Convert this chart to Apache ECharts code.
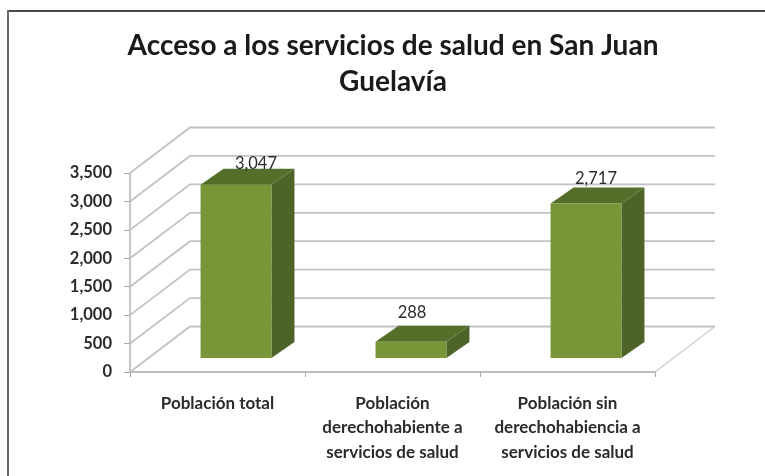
<!DOCTYPE html>
<html>
<head>
<meta charset="utf-8">
<style>html,body{margin:0;padding:0;background:#fff}#c{width:765px;height:476px}</style>
<script src="https://cdn.jsdelivr.net/npm/echarts@6/dist/echarts.min.js"></script>
</head>
<body>
<div id="c"></div>
<script>
const titleLines = ['Acceso a los servicios de salud en San Juan', 'Guelavía'];
const categories = ['Población total', 'Población\nderechohabiente a\nservicios de salud', 'Población sin\nderechohabiencia a\nservicios de salud'];
const values = [3047, 288, 2717];
const valueLabels = ['3,047', '288', '2,717'];
const yTicks = [0, 500, 1000, 1500, 2000, 2500, 3000, 3500];

const WALL = {dx: 60, dy: -45.5};
const BAR_SHIFT = {dx: 18.5, dy: -14};
const BAR_DEPTH = {dx: 23, dy: -16};
const BAR_RATIO = 0.405;
const LABEL_NUDGE = [[20, -21], [1, -29], [10, -25]];
const FONT = 'Lato, "Open Sans", sans-serif';

const chart = echarts.init(document.getElementById('c'), null, {renderer: 'canvas'});

function renderWall(params, api) {
  const cs = params.coordSys;
  const y = api.coord([0, api.value(1)])[1];
  const children = [{
    type: 'polyline',
    shape: {points: [[cs.x, y], [cs.x + WALL.dx, y + WALL.dy], [cs.x + cs.width + WALL.dx, y + WALL.dy]]},
    style: {fill: null, stroke: '#c2c2c6', lineWidth: 1.8}
  }];
  if (api.value(1) === 0) {
    children.push({
      type: 'line',
      shape: {x1: cs.x + cs.width, y1: y, x2: cs.x + cs.width + WALL.dx, y2: y + WALL.dy},
      style: {stroke: '#cfcfcf', lineWidth: 1.5}
    });
  }
  return {type: 'group', children};
}

function renderBar(params, api) {
  const idx = params.dataIndex;
  const c = api.coord([api.value(0), api.value(1)]);
  const base = api.coord([api.value(0), 0]);
  const w = api.size([1, 0])[0] * BAR_RATIO;
  const l = c[0] - w / 2 + BAR_SHIFT.dx, r = l + w;
  const t = c[1] + BAR_SHIFT.dy, b = base[1] + BAR_SHIFT.dy;
  const dx = BAR_DEPTH.dx, dy = BAR_DEPTH.dy;
  return {
    type: 'group',
    children: [
      {type: 'polygon', shape: {points: [[r, t], [r + dx, t + dy], [r + dx, b + dy], [r, b]]}, style: {fill: '#4d6327'}},
      {type: 'polygon', shape: {points: [[l, t], [l + dx, t + dy], [r + dx, t + dy], [r, t]]}, style: {fill: '#556f2b'}},
      {type: 'rect', shape: {x: l, y: t, width: w, height: b - t}, style: {fill: '#789537'}},
      {type: 'text', z2: 100, style: {
        x: (l + r) / 2 + LABEL_NUDGE[idx][0], y: t + LABEL_NUDGE[idx][1],
        text: valueLabels[idx], align: 'center', verticalAlign: 'middle',
        font: '16.5px ' + FONT, fill: '#2b2b2b'
      }}
    ]
  };
}

chart.setOption({
  animation: false,
  backgroundColor: '#ffffff',
  title: {
    text: titleLines.join('\n'),
    left: 388, top: 23, textAlign: 'center',
    textStyle: {fontFamily: FONT, fontSize: 28, fontWeight: 'bold', color: '#1a1a1a', lineHeight: 36}
  },
  grid: {left: 130, right: 110, top: 173, bottom: 104},
  xAxis: {
    type: 'category',
    data: categories,
    axisTick: {show: true, length: 5, lineStyle: {color: '#a8a8a8'}},
    axisLine: {lineStyle: {color: '#a8a8a8', width: 1.5}},
    axisLabel: {interval: 0, margin: 19, fontFamily: FONT, fontSize: 17, fontWeight: 'bold', color: '#2b2b2b', lineHeight: 24.5}
  },
  yAxis: {
    type: 'value', min: 0, max: 3500, interval: 500,
    splitLine: {show: false},
    axisLine: {show: true, lineStyle: {color: '#b5b5b5', width: 1.5}},
    axisTick: {show: true, length: 6, lineStyle: {color: '#a8a8a8'}},
    axisLabel: {margin: 18, fontFamily: FONT, fontSize: 16.5, fontWeight: 'bold', color: '#2b2b2b',
      formatter: v => v.toLocaleString('en-US')}
  },
  series: [
    {type: 'custom', silent: true, z: 1, renderItem: renderWall, data: yTicks.map(v => [0, v]), encode: {x: 0, y: 1}},
    {type: 'custom', silent: true, z: 3, renderItem: renderBar, data: values.map((v, i) => [i, v]), encode: {x: 0, y: 1}}
  ],
  graphic: [
    {type: 'line', silent: true, shape: {x1: 7, y1: 11, x2: 765, y2: 11}, style: {stroke: '#4a4a4a', lineWidth: 2}},
    {type: 'line', silent: true, shape: {x1: 8, y1: 10, x2: 8, y2: 476}, style: {stroke: '#6a6a6a', lineWidth: 2}}
  ]
});
</script>
</body>
</html>
